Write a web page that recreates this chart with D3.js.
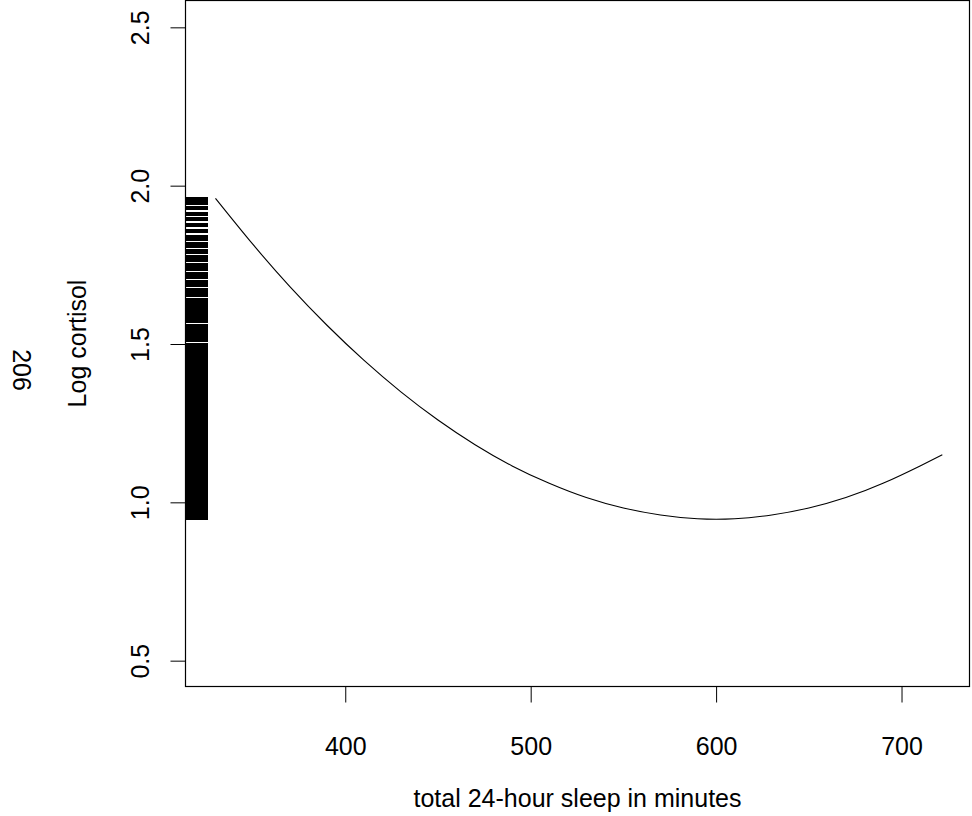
<!DOCTYPE html>
<html>
<head>
<meta charset="utf-8">
<script src="https://cdn.jsdelivr.net/npm/d3@7"></script>
<style>
  html, body { margin: 0; padding: 0; background: #fff; }
  svg { display: block; }
  text { font-family: "Liberation Sans", Arial, sans-serif; fill: #000; }
</style>
</head>
<body>
<svg id="chart" width="972" height="816"></svg>
<script>
// ---- data ----
const sleepMinutes = [330, 350, 370, 390, 410, 430, 450, 470, 490, 510, 530, 550, 570, 590, 610, 630, 650, 670, 690, 710, 722];
const logCortisol  = [1.960, 1.816, 1.682, 1.560, 1.449, 1.349, 1.260, 1.182, 1.115, 1.060, 1.015, 0.982, 0.960, 0.948, 0.948, 0.960, 0.982, 1.015, 1.060, 1.115, 1.150];

const rugValues = [
  1.958, 1.944, 1.928, 1.912, 1.894, 1.876, 1.857, 1.839, 1.832, 1.817, 1.811,
  1.795, 1.790, 1.774, 1.764, 1.749, 1.737, 1.721, 1.711, 1.695, 1.685, 1.670,
  1.661, 1.655, 1.639, 1.629, 1.618, 1.603, 1.592, 1.580, 1.574, 1.558, 1.547,
  1.536, 1.525, 1.513,
  1.498, 1.487, 1.475, 1.464, 1.452, 1.441, 1.429, 1.418, 1.406, 1.395, 1.383,
  1.372, 1.360, 1.349, 1.337, 1.326, 1.314, 1.303, 1.291, 1.280, 1.268, 1.257,
  1.245, 1.234, 1.222, 1.211, 1.199, 1.188, 1.176, 1.165, 1.153, 1.142, 1.130,
  1.119, 1.107, 1.096, 1.084, 1.073, 1.061, 1.050, 1.038, 1.027, 1.015, 1.004,
  0.992, 0.981, 0.969, 0.958, 0.949
];

const xTicks = [400, 500, 600, 700];
const yTicks = [0.5, 1.0, 1.5, 2.0, 2.5];
const xTitle = "total 24-hour sleep in minutes";
const yTitle = "Log cortisol";
const sideLabel = "206";

// ---- layout ----
const svg = d3.select("#chart");
const box = { left: 185.5, right: 969.5, top: 0.5, bottom: 686.5 };
const fontSize = 25;

const x = d3.scaleLinear().domain([313.84, 736.66]).range([box.left, box.right]);
const y = d3.scaleLinear().domain([0.42, 2.58]).range([686, 2]);

// rug (side 2)
const rugLen = 22.5;
svg.append("g")
  .attr("shape-rendering", "crispEdges")
  .selectAll("line")
  .data(rugValues)
  .join("line")
  .attr("x1", box.left)
  .attr("x2", box.left + rugLen)
  .attr("y1", d => y(d))
  .attr("y2", d => y(d))
  .attr("stroke", "#000")
  .attr("stroke-width", 4);

// fitted curve
const pts = sleepMinutes.map((m, i) => [m, logCortisol[i]]);
svg.append("path")
  .datum(pts)
  .attr("fill", "none")
  .attr("stroke", "#000")
  .attr("stroke-width", 1.1)
  .attr("d", d3.line().x(d => x(d[0])).y(d => y(d[1])).curve(d3.curveNatural));

// box
svg.append("rect")
  .attr("x", box.left).attr("y", box.top)
  .attr("width", box.right - box.left).attr("height", box.bottom - box.top)
  .attr("fill", "none").attr("stroke", "#000").attr("stroke-width", 1.2);

// x axis
const xAxis = d3.axisBottom(x).tickValues(xTicks).tickSize(16).tickPadding(30)
  .tickFormat(d3.format("d"));
const gx = svg.append("g").attr("transform", `translate(0,${box.bottom})`).call(xAxis);
gx.select(".domain").remove();
gx.selectAll(".tick line").attr("stroke", "#000");
gx.selectAll(".tick text").attr("font-size", fontSize)
  .attr("font-family", '"Liberation Sans", Arial, sans-serif').attr("fill", "#000")
  .attr("dy", null).attr("y", 68);

// y axis
const yAxis = d3.axisLeft(y).tickValues(yTicks).tickSize(15).tickFormat(d3.format(".1f"));
const gy = svg.append("g").attr("transform", `translate(${box.left},0)`).call(yAxis);
gy.select(".domain").remove();
gy.selectAll(".tick line").attr("stroke", "#000");
gy.selectAll(".tick text")
  .attr("font-size", fontSize)
  .attr("font-family", '"Liberation Sans", Arial, sans-serif').attr("fill", "#000")
  .attr("x", null).attr("dy", null)
  .attr("text-anchor", "middle")
  .attr("transform", "translate(-37,0) rotate(-90)");

// titles
svg.append("text")
  .attr("x", (box.left + box.right) / 2).attr("y", 807)
  .attr("text-anchor", "middle").attr("font-size", fontSize)
  .text(xTitle);

svg.append("text")
  .attr("transform", `translate(86,${(box.top + box.bottom) / 2}) rotate(-90)`)
  .attr("text-anchor", "middle").attr("font-size", fontSize)
  .text(yTitle);

svg.append("text")
  .attr("transform", `translate(12.5,370) rotate(90)`)
  .attr("text-anchor", "middle").attr("font-size", fontSize)
  .text(sideLabel);
</script>
</body>
</html>
